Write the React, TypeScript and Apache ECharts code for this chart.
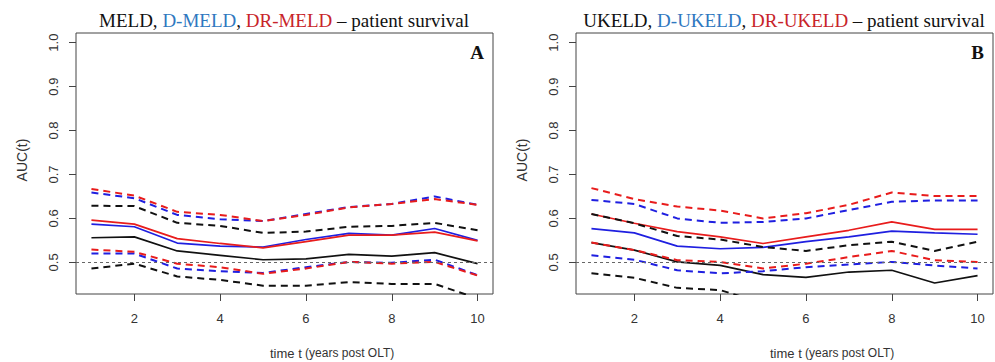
import React, { useEffect, useRef } from "react";
import * as echarts from "echarts";

const T = [1, 2, 3, 4, 5, 6, 7, 8, 9, 10];
const xTicks = [2, 4, 6, 8, 10];
const yTicks = [0.5, 0.6, 0.7, 0.8, 0.9, 1.0];

// Panel A: MELD (black), D-MELD (blue), DR-MELD (red)
const aBlack = [0.556, 0.558, 0.526, 0.516, 0.506, 0.508, 0.518, 0.514, 0.522, 0.497];
const aBlackUp = [0.629, 0.628, 0.59, 0.583, 0.567, 0.57, 0.581, 0.583, 0.59, 0.573];
const aBlackLo = [0.486, 0.497, 0.468, 0.46, 0.447, 0.447, 0.455, 0.451, 0.451, 0.418];
const aBlue = [0.587, 0.581, 0.544, 0.537, 0.535, 0.552, 0.566, 0.562, 0.577, 0.55];
const aBlueUp = [0.659, 0.646, 0.608, 0.598, 0.594, 0.61, 0.626, 0.633, 0.65, 0.631];
const aBlueLo = [0.52, 0.52, 0.486, 0.48, 0.476, 0.489, 0.501, 0.499, 0.506, 0.471];
const aRed = [0.596, 0.587, 0.554, 0.543, 0.533, 0.547, 0.562, 0.562, 0.569, 0.549];
const aRedUp = [0.667, 0.652, 0.615, 0.608, 0.594, 0.608, 0.625, 0.633, 0.644, 0.631];
const aRedLo = [0.529, 0.524, 0.497, 0.489, 0.474, 0.486, 0.501, 0.497, 0.501, 0.47];

// Panel B: UKELD (black), D-UKELD (blue), DR-UKELD (red)
const bBlack = [0.545, 0.528, 0.501, 0.493, 0.472, 0.466, 0.478, 0.482, 0.453, 0.47];
const bBlackUp = [0.61, 0.589, 0.56, 0.552, 0.535, 0.526, 0.539, 0.547, 0.526, 0.547];
const bBlackLo = [0.475, 0.465, 0.442, 0.437, 0.407, null, null, null, null, null];
const bBlue = [0.577, 0.567, 0.537, 0.531, 0.534, 0.547, 0.558, 0.571, 0.567, 0.564];
const bBlueUp = [0.642, 0.633, 0.6, 0.59, 0.592, 0.6, 0.619, 0.638, 0.641, 0.641];
const bBlueLo = [0.516, 0.506, 0.482, 0.475, 0.48, 0.489, 0.495, 0.501, 0.493, 0.486];
const bRed = [0.61, 0.589, 0.57, 0.558, 0.543, 0.558, 0.573, 0.592, 0.575, 0.575];
const bRedUp = [0.669, 0.644, 0.627, 0.618, 0.6, 0.612, 0.631, 0.659, 0.651, 0.651];
const bRedLo = [0.545, 0.528, 0.505, 0.501, 0.486, 0.497, 0.512, 0.526, 0.505, 0.501];

const BLACK = "#111111";
const BLUE = "#1f1fe0";
const RED = "#e81c1c";

const SANS = "Liberation Sans, Arial, sans-serif";
const SERIF = "Liberation Serif, Times New Roman, serif";

function App() {
  const ref = useRef<HTMLDivElement>(null);
  useEffect(() => {
    if (!ref.current) return;
    const chart = echarts.init(ref.current, undefined, { renderer: "svg" });

    const panels = [
      { left: 76, black: aBlack, blackUp: aBlackUp, blackLo: aBlackLo, blue: aBlue, blueUp: aBlueUp, blueLo: aBlueLo, red: aRed, redUp: aRedUp, redLo: aRedLo },
      { left: 576, black: bBlack, blackUp: bBlackUp, blackLo: bBlackLo, blue: bBlue, blueUp: bBlueUp, blueLo: bBlueLo, red: bRed, redUp: bRedUp, redLo: bRedLo },
    ];
    const gw = 417;
    const gt = 33;
    const gh = 261;

    const grids = panels.map((p) => ({
      left: p.left,
      top: gt,
      width: gw,
      height: gh,
      show: true,
      borderColor: "#444",
      borderWidth: 1,
      backgroundColor: "transparent",
    }));

    const xAxes = panels.map((_, i) => ({
      type: "value",
      gridIndex: i,
      min: 0.64,
      max: 10.36,
      axisLine: { show: false },
      splitLine: { show: false },
      axisTick: { show: true, length: 7, lineStyle: { color: "#444" }, customValues: xTicks },
      axisLabel: {
        customValues: xTicks,
        margin: 18,
        color: "#333",
        fontSize: 13,
        fontFamily: SANS,
      },
    }));

    const yAxes = panels.map((_, i) => ({
      type: "value",
      gridIndex: i,
      min: 0.428,
      max: 1.022,
      axisLine: { show: false },
      splitLine: { show: false },
      axisTick: { show: true, length: 7, lineStyle: { color: "#444" }, customValues: yTicks },
      axisLabel: {
        customValues: yTicks,
        rotate: 90,
        margin: 16,
        color: "#333",
        fontSize: 13,
        fontFamily: SANS,
        formatter: (v: number) => v.toFixed(1),
      },
    }));

    const series: any[] = [];
    panels.forEach((p, i) => {
      const mk = (vals: (number | null)[], color: string, dashed: boolean, extra: any = {}) => ({
        type: "line",
        xAxisIndex: i,
        yAxisIndex: i,
        data: T.map((t, k) => [t, vals[k]]),
        showSymbol: false,
        symbol: "none",
        connectNulls: false,
        clip: true,
        lineStyle: dashed
          ? { color, width: 2, type: [7, 5] }
          : { color, width: 1.7, type: "solid" },
        z: 3,
        ...extra,
      });
      series.push(
        mk(p.black, BLACK, false, {
          markLine: {
            silent: true,
            symbol: "none",
            label: { show: false },
            lineStyle: { color: "#666", width: 1, type: [3, 3] },
            data: [{ yAxis: 0.5 }],
          },
        })
      );
      series.push(mk(p.blue, BLUE, false));
      series.push(mk(p.red, RED, false));
      series.push(mk(p.blackUp, BLACK, true));
      series.push(mk(p.blackLo, BLACK, true));
      series.push(mk(p.blueUp, BLUE, true));
      series.push(mk(p.blueLo, BLUE, true));
      series.push(mk(p.redUp, RED, true));
      series.push(mk(p.redLo, RED, true));
    });

    const titles = [
      { cx: 284, parts: ["MELD, ", "D-MELD", ", ", "DR-MELD", " – patient survival"], letter: "A" },
      { cx: 784, parts: ["UKELD, ", "D-UKELD", ", ", "DR-UKELD", " – patient survival"], letter: "B" },
    ];
    const graphic: any[] = [];
    titles.forEach((t, i) => {
      const off = i * 500;
      graphic.push({
        type: "text",
        x: t.cx,
        y: 20,
        style: {
          text: `{k|${t.parts[0]}}{b|${t.parts[1]}}{k|${t.parts[2]}}{r|${t.parts[3]}}{k|${t.parts[4]}}`,
          align: "center",
          verticalAlign: "middle",
          rich: {
            k: { fill: "#111", fontFamily: SERIF, fontSize: 19 },
            b: { fill: "#2f78c0", fontFamily: SERIF, fontSize: 19 },
            r: { fill: "#c8242a", fontFamily: SERIF, fontSize: 19 },
          },
        },
      });
      graphic.push({
        type: "text",
        x: 484 + off,
        y: 52,
        style: {
          text: t.letter,
          align: "right",
          verticalAlign: "middle",
          fill: "#111",
          fontFamily: SERIF,
          fontWeight: "bold",
          fontSize: 19,
        },
      });
      graphic.push({
        type: "text",
        x: 22 + off,
        y: 160,
        rotation: Math.PI / 2,
        style: {
          text: "AUC(t)",
          align: "center",
          verticalAlign: "middle",
          fill: "#333",
          fontFamily: SANS,
          fontSize: 14,
        },
      });
      graphic.push({
        type: "text",
        x: 270 + off,
        y: 353,
        style: {
          text: "{a|time t} {b|(years post OLT)}",
          align: "left",
          verticalAlign: "middle",
          rich: {
            a: { fill: "#333", fontFamily: SANS, fontSize: 13 },
            b: { fill: "#333", fontFamily: SANS, fontSize: 12 },
          },
        },
      });
    });

    chart.setOption({
      animation: false,
      backgroundColor: "#ffffff",
      grid: grids,
      xAxis: xAxes,
      yAxis: yAxes,
      series,
      graphic,
    });
    return () => chart.dispose();
  }, []);
  return (
    <div
      ref={ref}
      style={{ position: "absolute", left: 0, top: 0, width: 995, height: 362 }}
    />
  );
}

export default App;
